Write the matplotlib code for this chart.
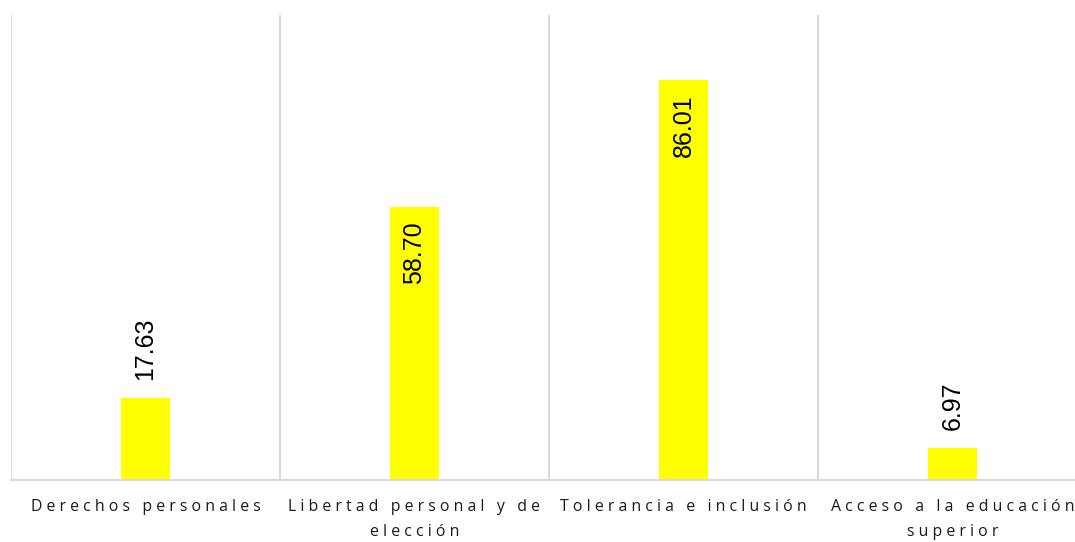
import matplotlib
matplotlib.use("Agg")
import matplotlib.pyplot as plt

categories = ["Derechos personales", "Libertad personal y de\nelección",
              "Tolerancia e inclusión", "Acceso a la educación\nsuperior"]
values = [17.63, 58.70, 86.01, 6.97]


def spaced(text):
    # spread the letters out, like the original chart's character spacing
    lines = []
    for line in text.split("\n"):
        words = [" ".join(w) for w in line.split(" ")]
        lines.append("   ".join(words))
    return "\n".join(lines)


fig = plt.figure(figsize=(10.75, 5.42), dpi=100)
ax = fig.add_axes([11 / 1075, 62 / 542, 1076 / 1075, 465 / 542])

x = list(range(len(values)))
bars = ax.bar(x, values, width=0.182, color="#ffff00", zorder=2)

ax.set_xlim(-0.5, len(values) - 0.5)
ax.set_ylim(0, 100)

# vertical separators between categories
for b in [i - 0.5 for i in range(len(values) + 1)]:
    ax.axvline(b, color="#d9d9d9", lw=1.5, zorder=1)

for s in ["top", "right", "left"]:
    ax.spines[s].set_visible(False)
ax.spines["bottom"].set_color("#d9d9d9")
ax.spines["bottom"].set_linewidth(1.5)
ax.set_yticks([])

ax.set_xticks(x)
ax.set_xticklabels([spaced(c) for c in categories], family=["Open Sans", "DejaVu Sans"],
                   fontsize=11.4, linespacing=1.7, color="#1a1a1a")
ax.tick_params(axis="x", length=0, pad=14)

for rect, v in zip(bars, values):
    cx = rect.get_x() + rect.get_width() / 2
    if v > 30:
        ax.annotate(f"{v:.2f}", (cx, v), xytext=(0, -10), textcoords="offset points",
                    rotation=90, ha="center", va="top", fontsize=18,
                    family="Liberation Sans")
    else:
        ax.annotate(f"{v:.2f}", (cx, v), xytext=(0, 13), textcoords="offset points",
                    rotation=90, ha="center", va="bottom", fontsize=18,
                    family="Liberation Sans")

fig.savefig("out.png", dpi=100)
